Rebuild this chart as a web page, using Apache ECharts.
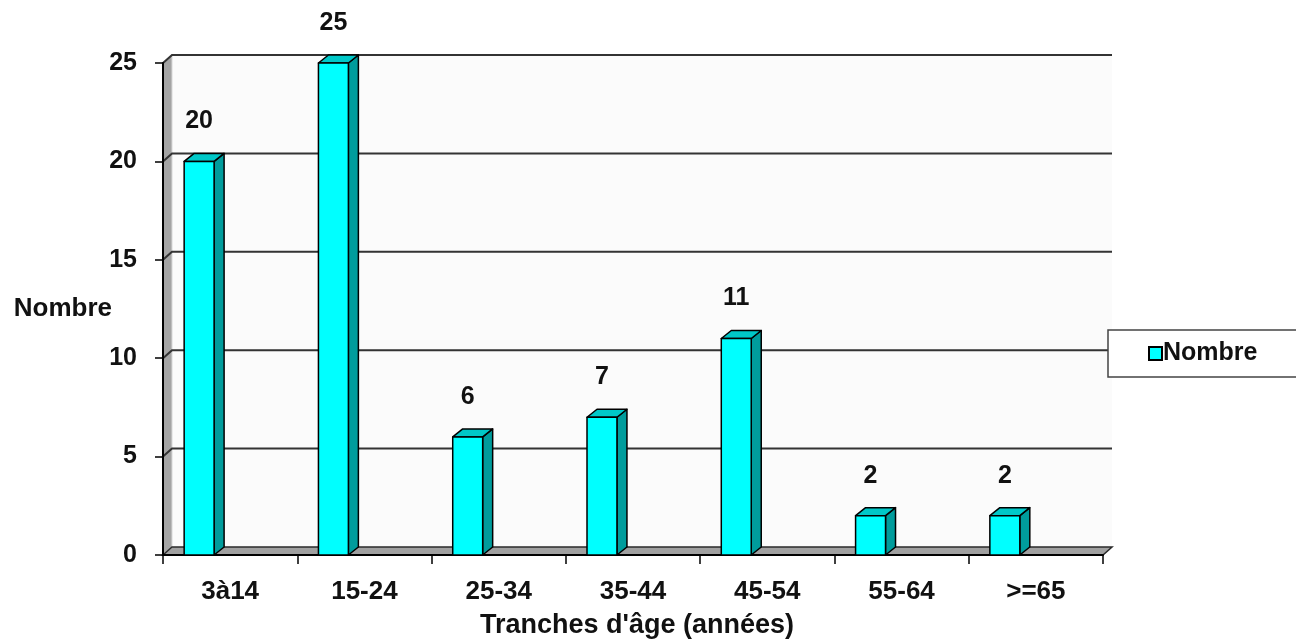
<!DOCTYPE html>
<html>
<head>
<meta charset="utf-8">
<script src="https://cdn.jsdelivr.net/npm/echarts@6/dist/echarts.min.js"></script>
<style>
  html, body { margin: 0; padding: 0; background: #ffffff; }
  #chart { width: 1296px; height: 641px; }
</style>
</head>
<body>
<div id="chart"></div>
<script>
// Répartition par tranche d'âge
const CATEGORIES = ['3à14', '15-24', '25-34', '35-44', '45-54', '55-64', '>=65'];
const NOMBRE = [20, 25, 6, 7, 11, 2, 2];
const Y_TICKS = [0, 5, 10, 15, 20, 25];
const SERIES_NAME = 'Nombre';
const X_TITLE = "Tranches d'âge (années)";
const Y_TITLE = 'Nombre';

const FONT = "'Liberation Sans', Arial, Helvetica, sans-serif";
const TEXT_COLOR = '#111111';
// perspective offset of the back wall and of the bar depth
const WALL_DX = 9, WALL_DY = -8;
const BAR_DX = 10, BAR_DY = -8;

const chart = echarts.init(document.getElementById('chart'), null, { renderer: 'canvas' });

// walls, floor and back-wall grid lines of the 3D frame
function renderFrame(params, api) {
  const cs = params.coordSys;
  const x0 = cs.x, x1 = cs.x + cs.width;
  const yTop = api.coord([0, Y_TICKS[Y_TICKS.length - 1]])[1];
  const yBase = api.coord([0, 0])[1];
  const children = [];
  // back wall
  children.push({
    type: 'polygon',
    shape: { points: [[x0 + WALL_DX, yTop + WALL_DY], [x1 + WALL_DX, yTop + WALL_DY], [x1 + WALL_DX, yBase + WALL_DY], [x0 + WALL_DX, yBase + WALL_DY]] },
    style: { fill: '#fbfbfb', stroke: null }
  });
  // left wall
  children.push({
    type: 'polygon',
    shape: { points: [[x0, yTop], [x0 + WALL_DX, yTop + WALL_DY], [x0 + WALL_DX, yBase + WALL_DY], [x0, yBase]] },
    style: { fill: '#a4a4a4', stroke: '#d8d8d8', lineWidth: 1 }
  });
  // floor
  children.push({
    type: 'polygon',
    shape: { points: [[x0, yBase], [x0 + WALL_DX, yBase + WALL_DY], [x1 + WALL_DX, yBase + WALL_DY], [x1, yBase]] },
    style: { fill: '#a0a0a0', stroke: '#2a2a2a', lineWidth: 1.5 }
  });
  // grid lines
  Y_TICKS.forEach(function (v) {
    if (v === 0) return;
    const y = api.coord([0, v])[1];
    children.push({
      type: 'polyline',
      shape: { points: [[x0, y], [x0 + WALL_DX, y + WALL_DY], [x1 + WALL_DX, y + WALL_DY]] },
      style: { stroke: '#333333', lineWidth: 2, fill: null }
    });
  });
  return { type: 'group', children: children };
}

// 3D column with its value label
function renderBar(params, api) {
  const idx = api.value(0);
  const val = api.value(1);
  const top = api.coord([idx, val]);
  const base = api.coord([idx, 0]);
  const bw = api.size([1, 0])[0];
  const left = top[0] - bw * 0.3425;
  const right = left + bw * 0.223;
  const yT = top[1], yB = base[1];
  const edge = { stroke: '#000000', lineWidth: 1.5, lineJoin: 'round' };
  return {
    type: 'group',
    children: [
      {
        type: 'polygon',
        shape: { points: [[right, yT], [right + BAR_DX, yT + BAR_DY], [right + BAR_DX, yB + BAR_DY], [right, yB]] },
        style: Object.assign({ fill: '#009c9c' }, edge)
      },
      {
        type: 'polygon',
        shape: { points: [[left, yT], [left + BAR_DX, yT + BAR_DY], [right + BAR_DX, yT + BAR_DY], [right, yT]] },
        style: Object.assign({ fill: '#00c8c8' }, edge)
      },
      {
        type: 'rect',
        shape: { x: left, y: yT, width: right - left, height: yB - yT },
        style: Object.assign({ fill: '#00ffff' }, edge)
      },
      {
        type: 'text',
        x: (left + right) / 2,
        y: yT - 40,
        style: {
          text: String(val),
          fill: TEXT_COLOR,
          font: 'bold 25px ' + FONT,
          align: 'center',
          verticalAlign: 'middle'
        }
      }
    ]
  };
}

const option = {
  animation: false,
  backgroundColor: '#ffffff',
  grid: { left: 163, right: 193, top: 63, bottom: 86, containLabel: false, outerBoundsMode: 'none' },
  legend: {
    left: 1108,
    top: 330,
    orient: 'horizontal',
    padding: [11, 300, 11, 40],
    itemWidth: 13,
    itemHeight: 13,
    borderColor: '#444444',
    borderWidth: 1.5,
    backgroundColor: '#ffffff',
    textStyle: { fontFamily: FONT, fontWeight: 'bold', fontSize: 25, color: TEXT_COLOR, padding: [0, 0, 0, -4] },
    data: [{ name: SERIES_NAME, icon: 'rect', itemStyle: { color: '#00ffff', borderColor: '#000000', borderWidth: 2 } }]
  },
  xAxis: {
    type: 'category',
    data: CATEGORIES,
    boundaryGap: true,
    z: 2,
    name: X_TITLE,
    nameLocation: 'middle',
    nameGap: 57,
    nameMoveOverlap: false,
    nameTextStyle: { fontFamily: FONT, fontWeight: 'bold', fontSize: 27, color: TEXT_COLOR, padding: [0, 0, 0, 8] },
    axisLine: { show: true, lineStyle: { color: '#000000', width: 2 } },
    axisTick: { show: true, alignWithLabel: false, length: 9, lineStyle: { color: '#000000', width: 1.5 } },
    axisLabel: { margin: 24, fontFamily: FONT, fontWeight: 'bold', fontSize: 26, color: TEXT_COLOR, interval: 0 },
    splitLine: { show: false }
  },
  yAxis: {
    type: 'value',
    min: 0,
    max: 25,
    interval: 5,
    z: 2,
    name: Y_TITLE,
    nameLocation: 'middle',
    nameRotate: 0,
    nameGap: 51,
    nameMoveOverlap: false,
    nameTextStyle: { fontFamily: FONT, fontWeight: 'bold', fontSize: 26, color: TEXT_COLOR },
    axisLine: { show: true, lineStyle: { color: '#000000', width: 2 } },
    axisTick: { show: true, inside: false, length: 8, lineStyle: { color: '#000000', width: 1.5 } },
    axisLabel: { margin: 26, fontFamily: FONT, fontWeight: 'bold', fontSize: 25, color: TEXT_COLOR },
    splitLine: { show: false }
  },
  series: [
    {
      type: 'custom',
      name: 'frame',
      silent: true,
      z: 1,
      clip: false,
      renderItem: renderFrame,
      encode: { x: 0, y: 1 },
      data: [[0, 0]]
    },
    {
      type: 'custom',
      name: SERIES_NAME,
      z: 3,
      clip: false,
      renderItem: renderBar,
      encode: { x: 0, y: 1 },
      data: NOMBRE.map(function (v, i) { return [i, v]; })
    }
  ]
};

chart.setOption(option);
</script>
</body>
</html>
